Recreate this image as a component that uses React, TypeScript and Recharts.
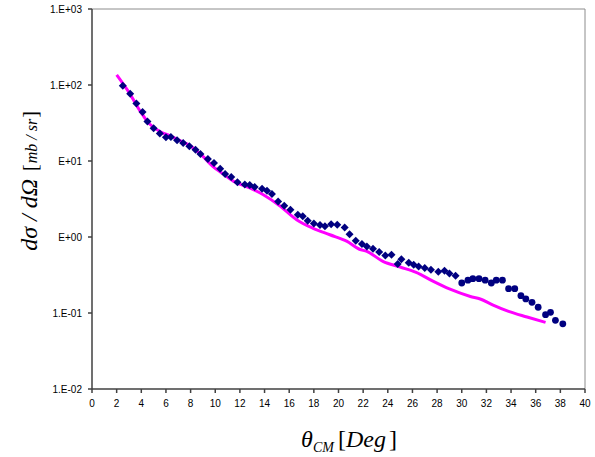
import {
  ComposedChart,
  Line,
  Scatter,
  XAxis,
  YAxis,
  ReferenceLine,
  Label,
} from "recharts";

// measured cross section (diamonds, then circles at larger angles)
const diamondAngles = [
  2.5, 3.1, 3.6, 4.1, 4.5, 5.0, 5.5, 6.0, 6.4, 6.9, 7.4, 7.9, 8.4, 8.8, 9.4,
  9.9, 10.4, 10.8, 11.3, 11.8, 12.4, 12.8, 13.2, 13.8, 14.2, 14.6, 15.1, 15.6,
  16.1, 16.7, 17.1, 17.5, 18.0, 18.5, 18.9, 19.4, 19.9, 20.5, 20.9, 21.4, 21.9,
  22.3, 22.8, 23.3, 23.8, 24.3, 24.8, 25.1, 25.7, 26.1, 26.5, 27.0, 27.5, 28.1,
  28.6, 29.0, 29.5,
];
const diamondValues = [
  98, 77, 57, 44, 33, 27, 23, 20.5, 20.7, 18.7, 17.3, 15.6, 14.1, 12.4, 10.6,
  9.4, 7.9, 6.75, 6.15, 5.25, 4.92, 4.83, 4.55, 4.32, 4.07, 3.68, 2.94, 2.58,
  2.29, 1.96, 1.87, 1.64, 1.5, 1.44, 1.38, 1.47, 1.45, 1.33, 1.09, 0.89, 0.81,
  0.75, 0.7, 0.635, 0.573, 0.585, 0.44, 0.51, 0.46, 0.43, 0.41, 0.39, 0.37, 0.35,
  0.36, 0.33, 0.31,
];
const circleAngles = [
  30.0, 30.5, 30.9, 31.4, 31.9, 32.4, 32.8, 33.3, 33.8, 34.3, 34.8, 35.2, 35.7,
  36.2, 36.8, 37.2, 37.6, 38.2,
];
const circleValues = [
  0.248, 0.27, 0.283, 0.283, 0.27, 0.248, 0.27, 0.27, 0.209, 0.209, 0.169,
  0.153, 0.138, 0.119, 0.095, 0.102, 0.08, 0.072,
];

// calculation (magenta curve)
const calcAngles = [
  2.0, 3.0, 4.0, 4.5, 5.5, 6.3, 7.0, 8.0, 9.0, 9.8, 10.5, 11.5, 12.8, 13.9,
  15.2, 16.6, 17.9, 19.3, 20.7, 21.7, 22.3, 23.6, 25.0, 26.3, 27.7, 29.0, 30.7,
  31.5, 32.5, 33.8, 35.3, 36.8,
];
const calcValues = [
  136, 80, 43, 33, 24.5, 21.5, 19, 15.8, 11.5, 8.5, 7, 5.4, 4.42, 3.6, 2.6,
  1.69, 1.31, 1.07, 0.875, 0.69, 0.647, 0.478, 0.403, 0.342, 0.26, 0.207, 0.165,
  0.153, 0.128, 0.105, 0.0885, 0.0752,
];

const xTicks = [
  0, 2, 4, 6, 8, 10, 12, 14, 16, 18, 20, 22, 24, 26, 28, 30, 32, 34, 36, 38, 40,
];
const yTicks = [0.01, 0.1, 1, 10, 100, 1000];
const yTickLabels = ["1.E-02", "1.E-01", "E+00", "E+01", "1.E+02", "1.E+03"];

const diamonds = diamondAngles.map((x, i) => ({ x, y: diamondValues[i] }));
const circles = circleAngles.map((x, i) => ({ x, y: circleValues[i] }));
const calc = calcAngles.map((x, i) => ({ x, y: calcValues[i] }));

const NAVY = "#000080";
const SERIF = "'Liberation Serif', 'Times New Roman', serif";

const Diamond = (props: any) => {
  const { cx, cy } = props;
  const r = 4;
  return (
    <polygon
      points={`${cx},${cy - r} ${cx + r},${cy} ${cx},${cy + r} ${cx - r},${cy}`}
      fill={NAVY}
    />
  );
};

const Dot = (props: any) => {
  const { cx, cy } = props;
  return <circle cx={cx} cy={cy} r={3.4} fill={NAVY} />;
};

const tickStyle = {
  fontSize: 10,
  fill: "#000",
  fontFamily: "'Liberation Sans', Arial, sans-serif",
};

export default function App() {
  return (
    <div
      style={{
        position: "absolute",
        left: 0,
        top: 0,
        width: 595,
        height: 457,
        background: "#fff",
      }}
    >
      <ComposedChart
        width={595}
        height={457}
        margin={{ top: 9, right: 10, bottom: 38, left: 10 }}
      >
        <XAxis
          dataKey="x"
          type="number"
          domain={[0, 40]}
          ticks={xTicks}
          interval={0}
          tick={tickStyle}
          tickSize={4}
          tickMargin={7}
          stroke="#404040"
          strokeWidth={1.5}
          height={30}
        >
          <Label
            content={() => (
              <text
                x={349}
                y={447}
                textAnchor="middle"
                fontFamily={SERIF}
                fontSize={24}
                fill="#000"
              >
                <tspan fontStyle="italic">θ</tspan>
                <tspan fontStyle="italic" fontSize={14} dy={5}>
                  CM
                </tspan>
                <tspan dy={-5} dx={4}>
                  [
                </tspan>
                <tspan fontStyle="italic">Deg</tspan>
                <tspan dx={3}>]</tspan>
              </text>
            )}
          />
        </XAxis>
        <YAxis
          dataKey="y"
          type="number"
          scale="log"
          domain={[0.01, 1000]}
          allowDataOverflow
          ticks={yTicks}
          interval={0}
          tickFormatter={(v: number) => yTickLabels[yTicks.indexOf(v)] ?? ""}
          tick={tickStyle}
          tickSize={4}
          tickMargin={6}
          stroke="#404040"
          strokeWidth={1.5}
          width={82}
        >
          <Label
            content={() => (
              <text
                transform="translate(37, 181) rotate(-90)"
                textAnchor="middle"
                fontFamily={SERIF}
                fontSize={24}
                fill="#000"
              >
                <tspan fontStyle="italic">dσ / dΩ</tspan>
                <tspan fontSize={20} dx={8}>
                  [
                </tspan>
                <tspan fontStyle="italic" fontSize={16} dx={1}>
                  mb / sr
                </tspan>
                <tspan fontSize={20} dx={1}>
                  ]
                </tspan>
              </text>
            )}
          />
        </YAxis>
        <ReferenceLine y={1000} stroke="#8c8c8c" strokeWidth={1} />
        <ReferenceLine x={40} stroke="#8c8c8c" strokeWidth={1} />
        <Line
          data={calc}
          dataKey="y"
          type="monotone"
          stroke="#ff00ff"
          strokeWidth={3}
          dot={false}
          isAnimationActive={false}
        />
        <Scatter
          data={diamonds}
          dataKey="y"
          shape={Diamond}
          isAnimationActive={false}
        />
        <Scatter
          data={circles}
          dataKey="y"
          shape={Dot}
          isAnimationActive={false}
        />
      </ComposedChart>
    </div>
  );
}
